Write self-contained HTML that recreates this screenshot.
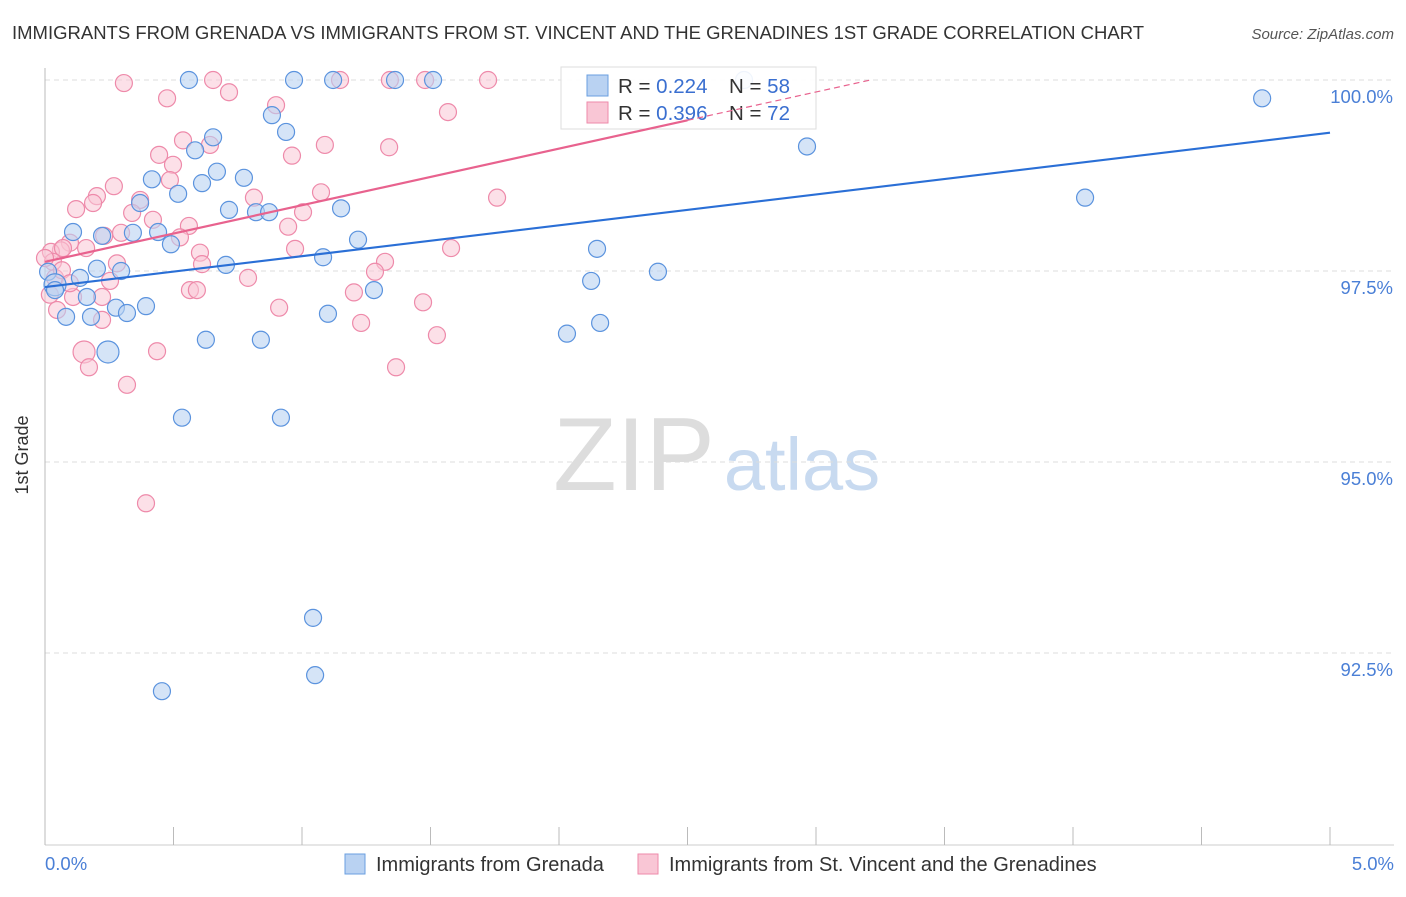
<!DOCTYPE html>
<html><head><meta charset="utf-8">
<style>
body{margin:0;background:#fff;font-family:"Liberation Sans",sans-serif;}
svg text{font-family:"Liberation Sans",sans-serif;}
</style></head>
<body>
<svg width="1406" height="892" viewBox="0 0 1406 892">
<text x="12" y="39" font-size="18.5" fill="#333">IMMIGRANTS FROM GRENADA VS IMMIGRANTS FROM ST. VINCENT AND THE GRENADINES 1ST GRADE CORRELATION CHART</text>
<text x="1394" y="39" font-size="15" fill="#555" font-style="italic" text-anchor="end">Source: ZipAtlas.com</text>
<text x="28" y="455" font-size="18" fill="#333" text-anchor="middle" transform="rotate(-90 28 455)">1st Grade</text>
<g>
<text x="634" y="490" font-size="104" fill="#ddd" font-family="Liberation Serif" text-anchor="middle">ZIP</text>
<text x="802" y="490" font-size="74" fill="#c8daf0" text-anchor="middle">atlas</text>
</g>
<g id="grid"></g>
<g id="axes"></g>
<g id="marks"></g>
<g>
<rect x="561" y="67" width="255" height="62" fill="#fff" fill-opacity="0.9" stroke="#ddd"/>
<rect x="587" y="75" width="21" height="21" fill="#b9d2f2" stroke="#6a9fe0"/>
<rect x="587" y="102" width="21" height="21" fill="#f9c6d5" stroke="#ee8aaa"/>
<text x="618" y="93" font-size="20.5" fill="#333">R = <tspan fill="#3a6fd0">0.224</tspan></text>
<text x="729" y="93" font-size="20.5" fill="#333">N = <tspan fill="#3a6fd0">58</tspan></text>
<text x="618" y="120" font-size="20.5" fill="#333">R = <tspan fill="#3a6fd0">0.396</tspan></text>
<text x="729" y="120" font-size="20.5" fill="#333">N = <tspan fill="#3a6fd0">72</tspan></text>
</g>
<g id="trends"></g>
<g>
<rect x="345" y="854" width="20" height="20" fill="#b9d2f2" stroke="#6a9fe0"/>
<text x="376" y="871" font-size="20" fill="#333">Immigrants from Grenada</text>
<rect x="638" y="854" width="20" height="20" fill="#f9c6d5" stroke="#ee8aaa"/>
<text x="669" y="871" font-size="20" fill="#333">Immigrants from St. Vincent and the Grenadines</text>
</g>
</svg>
<script>
const xTicks=[0,0.5,1,1.5,2,2.5,3,3.5,4,4.5,5];
const yTicks=[92.5,95,97.5,100];
const yTickLabels=["92.5%","95.0%","97.5%","100.0%"];
const xLabels=["0.0%","5.0%"];
const blueX=[0.560,0.969,1.121,1.362,1.510,2.720,4.736,0.883,0.938,0.654,0.584,2.965,0.669,0.774,0.416,0.611,0.518,0.370,1.152,0.716,0.821,0.872,4.047,0.109,0.222,0.342,0.440,0.490,1.218,2.148,1.082,0.704,0.202,0.296,2.385,0.012,0.136,0.039,2.125,1.280,0.163,0.276,0.393,0.319,0.082,0.179,1.101,2.160,2.031,0.626,0.840,0.245,0.533,0.918,1.043,1.051,0.455,0.039];
const blueY=[100,100,100,100,100,100,99.76,99.54,99.32,99.25,99.08,99.13,98.80,98.72,98.70,98.65,98.51,98.39,98.32,98.30,98.27,98.27,98.46,98.01,97.96,98.00,98.01,97.85,97.91,97.79,97.68,97.58,97.53,97.50,97.49,97.49,97.41,97.32,97.37,97.25,97.16,97.02,97.04,96.95,96.90,96.90,96.94,96.82,96.68,96.60,96.60,96.44,95.58,95.58,92.96,92.21,92.00,97.25];
const pinkX=[0.307,0.654,1.148,1.342,1.479,1.724,0.475,0.716,0.899,1.568,0.537,0.642,1.089,1.339,0.444,0.961,0.498,0.486,0.268,0.202,1.074,0.187,0.121,0.370,0.813,1.759,0.339,1.004,0.420,0.560,0.946,0.296,0.230,0.525,0.097,0.062,0.023,0.160,0.973,1.580,0.603,0.031,0.611,0.280,1.323,1.284,0.790,0.253,0.564,0.591,1.202,0.109,0.222,1.471,0.911,0.047,0.222,1.230,1.525,0.152,0.436,0.171,1.366,0.319,0.393,0.039,0.070,0.0,0.066,0.019,0.097];
const pinkY=[99.96,100,100,100,100,100,99.76,99.84,99.67,99.58,99.21,99.15,99.15,99.12,99.02,99.01,98.89,98.69,98.61,98.48,98.53,98.39,98.31,98.43,98.46,98.46,98.26,98.27,98.17,98.09,98.08,98.00,97.96,97.94,97.87,97.77,97.75,97.80,97.79,97.80,97.74,97.62,97.59,97.60,97.62,97.49,97.41,97.37,97.25,97.25,97.22,97.16,97.16,97.09,97.02,96.99,96.86,96.82,96.66,96.44,96.45,96.24,96.24,96.01,94.46,97.41,97.80,97.67,97.51,97.19,97.34];
const blueTrend=[97.29,99.31];
const pinkTrend=[97.62,0.741];
const X0=45,X1=1330,Y100=80,PXPER=191/2.5;
const sx=v=>X0+(v/5)*(X1-X0);
const sy=v=>Y100+(100-v)*PXPER;
const NS="http://www.w3.org/2000/svg";
function mk(tag,attrs,parent){const e=document.createElementNS(NS,tag);for(const k in attrs)e.setAttribute(k,attrs[k]);parent.appendChild(e);return e;}
const grid=document.getElementById('grid'),axes=document.getElementById('axes'),marks=document.getElementById('marks'),trends=document.getElementById('trends');
yTicks.forEach((t,i)=>{
 const l=mk('line',{x1:X0,x2:1394,y1:sy(t),y2:sy(t),stroke:'#ddd','stroke-dasharray':'5,4'},grid);
 
 
 const tx=mk('text',{x:1393,y:sy(t)+23,'font-size':18.5,fill:'#4a7fd6','text-anchor':'end'},axes);
 tx.textContent=yTickLabels[i];
 
 
});
const ya=mk('line',{x1:X0,x2:X0,y1:68,y2:845,stroke:'#bbb'},axes);


const xa=mk('line',{x1:X0,x2:1394,y1:845,y2:845,stroke:'#ccc'},axes);


xTicks.forEach(t=>{
 const l=mk('line',{x1:sx(t),x2:sx(t),y1:827,y2:845,stroke:'#bbb'},axes);
 
 
});
const xl0=mk('text',{x:45,y:870,'font-size':18.5,fill:'#4a7fd6'},axes);xl0.textContent=xLabels[0];


const xl1=mk('text',{x:1394,y:870,'font-size':18.5,fill:'#4a7fd6','text-anchor':'end'},axes);xl1.textContent=xLabels[1];


pinkX.forEach((x,i)=>{
 const c=mk('circle',{cx:sx(x),cy:sy(pinkY[i]),r:(i==59?11:8.5),fill:'#f9c6d5','fill-opacity':0.55,stroke:'#ee8aaa','stroke-width':1.2},marks);
 
 
});
blueX.forEach((x,i)=>{
 const big=(i==51||i==37);
 const c=mk('circle',{cx:sx(x),cy:sy(blueY[i]),r:big?11:8.5,fill:'#b9d2f2','fill-opacity':0.6,stroke:'#5b93de','stroke-width':1.2},marks);
 
 
});
const bt=mk('line',{x1:sx(0),y1:sy(blueTrend[0]),x2:sx(5),y2:sy(blueTrend[1]),stroke:'#2a6fd6','stroke-width':2.2},trends);


const pf=x=>pinkTrend[0]+pinkTrend[1]*x;
const pt=mk('line',{x1:sx(0),y1:sy(pf(0)),x2:sx(2.5),y2:sy(pf(2.5)),stroke:'#e8628e','stroke-width':2.2},trends);


const pd=mk('line',{x1:sx(2.5),y1:sy(pf(2.5)),x2:sx(3.21),y2:sy(pf(3.21)),stroke:'#e8628e','stroke-width':1.2,'stroke-dasharray':'6,4'},trends);


</script>
</body></html>
